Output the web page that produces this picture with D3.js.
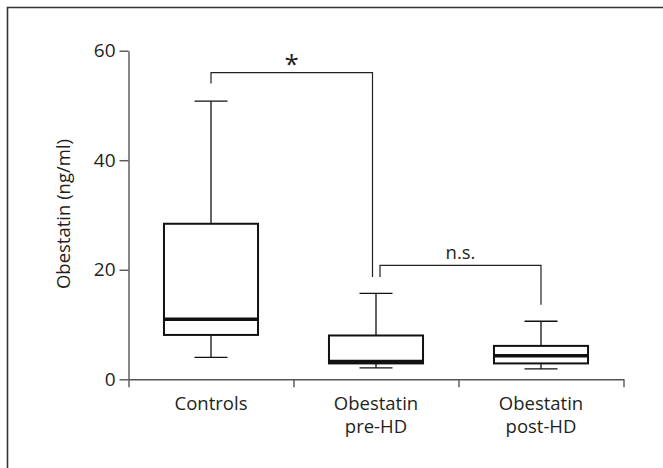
<!DOCTYPE html>
<html>
<head>
<meta charset="utf-8">
<script src="https://cdn.jsdelivr.net/npm/d3@7"></script>
<style>
  body { margin: 0; background: #fff; }
  text { font-family: "Open Sans", sans-serif; fill: #231f20; }
</style>
</head>
<body>
<script>
//data
var groups = ["Controls", "Obestatin pre-HD", "Obestatin post-HD"];
var groupLabels = [["Controls"], ["Obestatin", "pre-HD"], ["Obestatin", "post-HD"]];
var whiskerLow = [4.0, 2.1, 1.9];
var q1 = [8.1, 2.9, 2.9];
var median = [10.95, 3.25, 4.3];
var q3 = [28.4, 8.0, 6.1];
var whiskerHigh = [50.8, 15.7, 10.6];
var yTicks = [0, 20, 40, 60];

//significance brackets
var bracketFrom = [0, 1];
var bracketTo = [1, 2];
var bracketLabel = ["*", "n.s."];
var bracketTop = [56, 20.8];
var bracketLeftEnd = [54, 18.7];
var bracketRightEnd = [18.7, 13.6];

window.onload = function(){
    var w = 663, h = 468;
    var svg = d3.select("body")
        .append("svg")
        .attr("width", w)
        .attr("height", h);

    //frame (top and left edges only)
    svg.append("path")
        .attr("d", "M7.5," + h + "V7.5H" + w)
        .attr("fill", "none")
        .attr("stroke", "#333")
        .attr("stroke-width", 1.6);

    /**** scales ****/
    var x = d3.scaleBand()
        .domain(groups)
        .range([128.5, 623.5])
        .padding(0);
    var xEdge = d3.scaleLinear()
        .domain([0, groups.length])
        .range([128.5, 623.5]);
    var y = d3.scaleLinear()
        .domain([0, 60])
        .range([379.3, 50.7]);

    /**** axes ****/
    var yAxis = svg.append("g")
        .attr("transform", "translate(128.5,0)")
        .call(d3.axisLeft(y).tickValues(yTicks).tickSize(9).tickSizeOuter(0).tickPadding(4));
    var xAxis = svg.append("g")
        .attr("transform", "translate(0," + y(0) + ")")
        .call(d3.axisBottom(xEdge).tickValues([0, 1, 2, 3]).tickFormat("").tickSize(8).tickSizeOuter(0));
    svg.selectAll(".domain, .tick line")
        .attr("stroke", "#555")
        .attr("stroke-width", 1.4);
    yAxis.selectAll("text")
        .style("font-size", "19px")
        .style("font-family", "'Open Sans', sans-serif")
        .attr("fill", "#231f20");

    //category labels
    var labels = svg.selectAll(".catLabel")
        .data(groups)
        .enter()
        .append("text")
        .attr("class", "catLabel")
        .attr("text-anchor", "middle")
        .attr("x", function(d){ return x(d) + x.bandwidth() / 2; })
        .attr("y", 410)
        .style("font-size", "18.5px");
    labels.selectAll("tspan")
        .data(function(d, i){ return groupLabels[i]; })
        .enter()
        .append("tspan")
        .attr("x", function(){ return d3.select(this.parentNode).attr("x"); })
        .attr("dy", function(d, i){ return i === 0 ? 0 : 23; })
        .text(function(d){ return d; });

    //y axis title
    svg.append("text")
        .attr("transform", "translate(70,214) rotate(-90)")
        .attr("text-anchor", "middle")
        .style("font-size", "18.5px")
        .text("Obestatin (ng/ml)");

    /**** boxes ****/
    var boxW = x.bandwidth() * 0.57;
    var capW = x.bandwidth() * 0.2;
    var cx = function(i){ return x(groups[i]) + x.bandwidth() / 2; };
    var idx = d3.range(groups.length);

    //whiskers
    svg.selectAll(".whisker")
        .data(idx)
        .enter()
        .append("path")
        .attr("class", "whisker")
        .attr("d", function(i){
            return "M" + cx(i) + "," + y(whiskerHigh[i]) + "V" + y(q3[i]) +
                "M" + cx(i) + "," + y(q1[i]) + "V" + y(whiskerLow[i]) +
                "M" + (cx(i) - capW / 2) + "," + y(whiskerHigh[i]) + "h" + capW +
                "M" + (cx(i) - capW / 2) + "," + y(whiskerLow[i]) + "h" + capW;
        })
        .attr("fill", "none")
        .attr("stroke", "#111")
        .attr("stroke-width", 1.3);

    svg.selectAll(".box")
        .data(idx)
        .enter()
        .append("rect")
        .attr("class", "box")
        .attr("x", function(i){ return cx(i) - boxW / 2; })
        .attr("y", function(i){ return y(q3[i]); })
        .attr("width", boxW)
        .attr("height", function(i){ return y(q1[i]) - y(q3[i]); })
        .attr("fill", "#fff")
        .attr("stroke", "#111")
        .attr("stroke-width", 2);

    svg.selectAll(".median")
        .data(idx)
        .enter()
        .append("line")
        .attr("class", "median")
        .attr("x1", function(i){ return cx(i) - boxW / 2; })
        .attr("x2", function(i){ return cx(i) + boxW / 2; })
        .attr("y1", function(i){ return y(median[i]); })
        .attr("y2", function(i){ return y(median[i]); })
        .attr("stroke", "#111")
        .attr("stroke-width", 3.5);

    /**** brackets ****/
    var bIdx = d3.range(bracketLabel.length);
    var bx1 = function(i){ return cx(bracketFrom[i]) + (i === 0 ? 0 : 4); };
    var bx2 = function(i){ return cx(bracketTo[i]) - (i === 0 ? 3.5 : 0); };
    svg.selectAll(".bracket")
        .data(bIdx)
        .enter()
        .append("path")
        .attr("class", "bracket")
        .attr("d", function(i){
            return "M" + bx1(i) + "," + y(bracketLeftEnd[i]) + "V" + y(bracketTop[i]) +
                "H" + bx2(i) + "V" + y(bracketRightEnd[i]);
        })
        .attr("fill", "none")
        .attr("stroke", "#222")
        .attr("stroke-width", 1.2);
    svg.selectAll(".sig")
        .data(bIdx)
        .enter()
        .append("text")
        .attr("class", "sig")
        .attr("text-anchor", "middle")
        .attr("x", function(i){ return (bx1(i) + bx2(i)) / 2; })
        .attr("y", function(i){ return y(bracketTop[i]) - (i === 0 ? 0 : 6); })
        .style("font-size", function(i){ return i === 0 ? "26px" : "18.5px"; })
        .text(function(i){ return bracketLabel[i]; });
};
</script>
</body>
</html>
